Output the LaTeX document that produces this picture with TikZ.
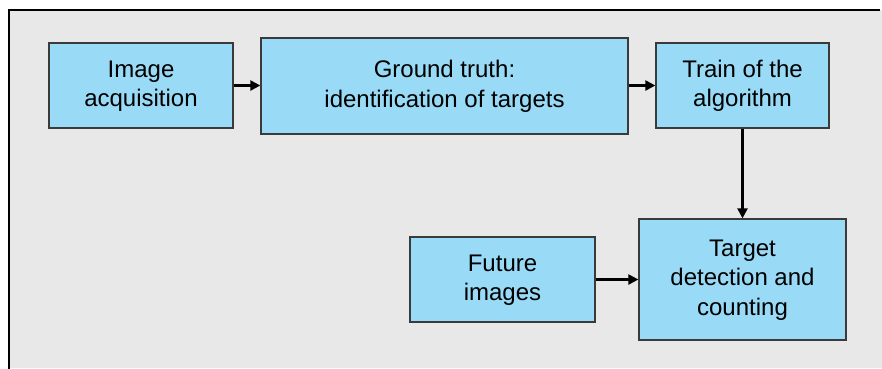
\documentclass[tikz,border=0pt]{standalone}
\usepackage{fontspec}
\setmainfont{Liberation Sans}
\usetikzlibrary{arrows.meta}
\definecolor{bg}{HTML}{E8E8E8}
\definecolor{boxfill}{HTML}{99DBF6}
\definecolor{boxline}{HTML}{3A3A3A}
\tikzset{
  stepbox/.style={draw=boxline, line width=1.3pt, fill=boxfill, inner sep=0pt,
    align=center, font=\fontsize{24}{29.5}\selectfont},
  conn/.style={line width=2.3pt, -{Triangle[length=10pt,width=10pt]}}
}
\begin{document}
\begin{tikzpicture}[x=1pt,y=-1pt]
\useasboundingbox (0,0) rectangle (882,368);
\fill[white] (0,0) rectangle (882,368);
\fill[bg] (9,10) rectangle (882,368);
\draw[line width=1.8pt] (9,369) -- (9,10) -- (880,10);
\node[stepbox, minimum width=184pt, minimum height=85pt, text depth=4pt] (a) at (141,85.5) {Image\\acquisition};
\node[stepbox, minimum width=367pt, minimum height=96pt, text depth=4pt] (b) at (444.5,86) {Ground truth:\\identification of targets};
\node[stepbox, minimum width=173pt, minimum height=85pt, text depth=4pt] (c) at (742.5,85.5) {Train of the\\algorithm};
\node[stepbox, minimum width=185pt, minimum height=85pt, text depth=4pt] (d) at (502.5,279.5) {Future\\images};
\node[stepbox, minimum width=207pt, minimum height=121pt, text depth=4pt] (e) at (742.5,279.5) {Target\\detection and\\counting};
\draw[conn] (a.east) -- (b.west|-a.east);
\draw[conn] (b.east|-c.west) -- (c.west);
\draw[conn] (c.south) -- (e.north);
\draw[conn] (d.east) -- (e.west|-d.east);
\end{tikzpicture}
\end{document}
